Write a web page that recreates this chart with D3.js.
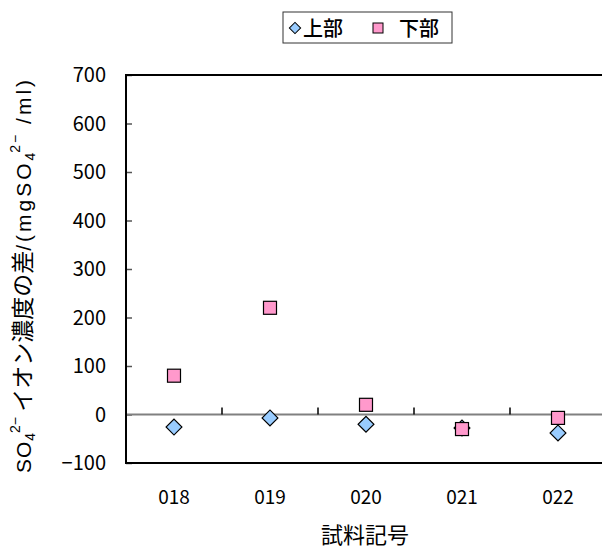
<!DOCTYPE html>
<html>
<head>
<meta charset="utf-8">
<script src="https://cdn.jsdelivr.net/npm/d3@7"></script>
<style>
  body { margin: 0; background: #fff; }
  svg { display: block; }
</style>
</head>
<body>
<svg id="chart" width="602" height="549"></svg>
<script>
// sample codes and the two series (difference of SO4 2- concentration)
var samples = ["018", "019", "020", "021", "022"];
var upper = [-26, -7, -20, -28, -38];   // 上部
var lower = [80, 220, 20, -30, -7];     // 下部
var yTicks = [-100, 0, 100, 200, 300, 400, 500, 600, 700];
var seriesNames = ["上部", "下部"];

var svg = d3.select("svg#chart");
var numFont = "'Liberation Sans', Arial, sans-serif";
var jpFont = "'Noto Sans CJK JP', sans-serif";

// plot area (right edge runs past the picture, as in the original)
var plotLeft = 126, plotTop = 75, plotBottom = 463, plotRight = 606;

var x = d3.scaleBand().domain(samples).range([plotLeft, plotRight]);
var y = d3.scaleLinear().domain([-100, 700]).range([plotBottom, plotTop]);

// y ticks (inside the plot)
svg.append("g")
  .attr("transform", "translate(" + plotLeft + ",0)")
  .call(d3.axisRight(y).tickValues(yTicks).tickSize(6).tickFormat(""))
  .call(g => g.select(".domain").remove())
  .call(g => g.selectAll("line").attr("stroke", "#555").attr("stroke-width", 1.5));

// y tick labels
svg.append("g").selectAll("text")
  .data(yTicks)
  .enter()
  .append("text")
  .attr("x", 106)
  .attr("y", d => y(d) + 7)
  .attr("text-anchor", "end")
  .style("font-family", jpFont)
  .style("font-size", "20px")
  .text(d => d < 0 ? "\u2212" + Math.abs(d) : d);

// zero line with category separators
svg.append("line")
  .attr("x1", plotLeft).attr("x2", plotRight)
  .attr("y1", y(0)).attr("y2", y(0))
  .attr("stroke", "#808080").attr("stroke-width", 2);

svg.append("g").selectAll("line")
  .data(samples.slice(1))
  .enter()
  .append("line")
  .attr("x1", d => x(d)).attr("x2", d => x(d))
  .attr("y1", y(0)).attr("y2", y(0) - 7)
  .attr("stroke", "#000").attr("stroke-width", 1.5);

// plot border: left, top, bottom
svg.append("path")
  .attr("d", "M" + plotRight + "," + plotTop + "H" + plotLeft + "V" + plotBottom + "H" + plotRight)
  .attr("fill", "none")
  .attr("stroke", "#000")
  .attr("stroke-width", 2);

// x labels
svg.append("g").selectAll("text")
  .data(samples)
  .enter()
  .append("text")
  .attr("x", d => x(d) + x.bandwidth() / 2)
  .attr("y", 504)
  .attr("text-anchor", "middle")
  .style("font-family", jpFont)
  .style("font-size", "19px")
  .text(d => d);

// axis titles
svg.append("text")
  .attr("x", 365)
  .attr("y", 543)
  .attr("text-anchor", "middle")
  .style("font-family", jpFont)
  .style("font-size", "22px")
  .text("試料記号");

var yt = svg.append("text")
  .attr("transform", "translate(31,275) rotate(-90)")
  .attr("text-anchor", "middle")
  .style("font-family", jpFont)
  .style("font-size", "23px");
function latin(s, size, dy, ls) {
  var t = yt.append("tspan").style("font-family", numFont).style("font-size", size + "px")
    .style("letter-spacing", (ls || 0) + "px").text(s);
  if (dy) t.attr("dy", dy);
  return t;
}
latin("SO", 21, 0, 1);
latin("4", 14, 4);
latin("2\u2212", 14, -15);
yt.append("tspan").attr("dy", 11).text(" イオン濃度の差");
latin("/(mgSO", 21, 0, 3);
latin("4", 14, 4);
latin("2\u2212", 14, -15, 2);
latin("  /ml)", 21, 11, 3);

var cx = d => x(d) + x.bandwidth() / 2;
var diamond = d3.symbol().type(d3.symbolSquare).size(125);

// 上部 diamonds
svg.append("g").selectAll("path")
  .data(samples)
  .enter()
  .append("path")
  .attr("d", diamond)
  .attr("transform", (d, i) => "translate(" + cx(d) + "," + y(upper[i]) + ") rotate(45)")
  .attr("fill", "#99CCFF")
  .attr("stroke", "#000")
  .attr("stroke-width", 1.2);

// 下部 squares
svg.append("g").selectAll("rect")
  .data(samples)
  .enter()
  .append("rect")
  .attr("x", d => cx(d) - 6.5)
  .attr("y", (d, i) => y(lower[i]) - 6.5)
  .attr("width", 13)
  .attr("height", 13)
  .attr("fill", "#FF99CC")
  .attr("stroke", "#000")
  .attr("stroke-width", 1.2);

// legend
var lg = svg.append("g");
lg.append("rect")
  .attr("x", 283).attr("y", 12)
  .attr("width", 169).attr("height", 31)
  .attr("fill", "#fff")
  .attr("stroke", "#333")
  .attr("stroke-width", 1);
lg.append("path")
  .attr("d", d3.symbol().type(d3.symbolSquare).size(64))
  .attr("transform", "translate(295,28) rotate(45)")
  .attr("fill", "#99CCFF").attr("stroke", "#000").attr("stroke-width", 1);
lg.append("text")
  .attr("x", 303).attr("y", 36)
  .style("font-family", jpFont).style("font-size", "20px").style("font-weight", 500)
  .text(seriesNames[0]);
lg.append("rect")
  .attr("x", 373).attr("y", 23).attr("width", 10).attr("height", 10)
  .attr("fill", "#FF99CC").attr("stroke", "#000").attr("stroke-width", 1);
lg.append("text")
  .attr("x", 399).attr("y", 36)
  .style("font-family", jpFont).style("font-size", "20px").style("font-weight", 500)
  .text(seriesNames[1]);
</script>
</body>
</html>
